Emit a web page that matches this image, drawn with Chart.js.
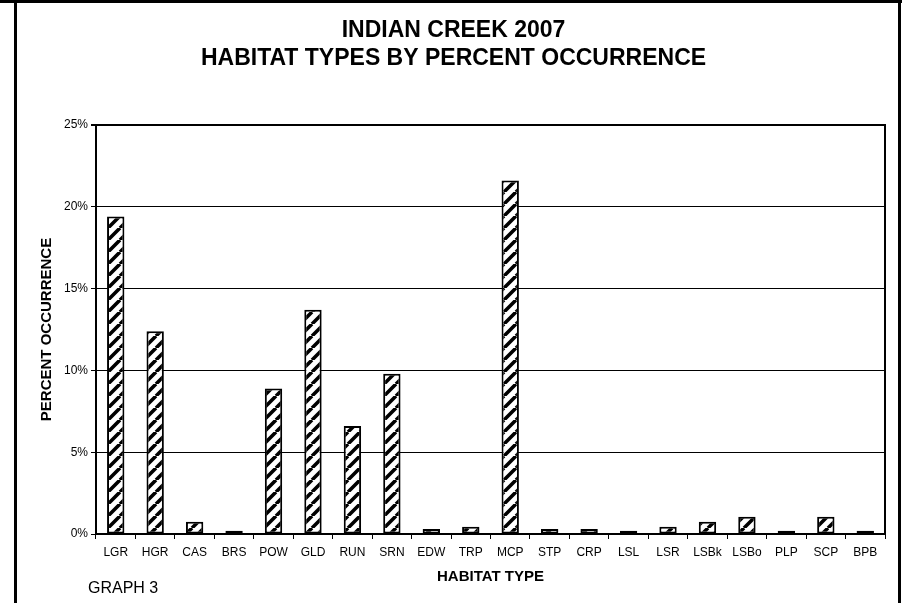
<!DOCTYPE html>
<html>
<head>
<meta charset="utf-8">
<title>Indian Creek 2007 - Habitat Types</title>
<script src="https://cdn.jsdelivr.net/npm/chart.js@4.4.1/dist/chart.umd.min.js"></script>
<style>
    body { margin: 0; background: #ffffff; overflow: hidden; }
    #wrap { position: relative; width: 907px; height: 603px; }
    #habitatChart { position: absolute; left: 0; top: 0; }
    .frame { position: absolute; background: #000000; }
    #frame-top { left: 0; top: 0; width: 902px; height: 3px; }
    #frame-left { left: 14px; top: 0; width: 3px; height: 603px; }
    #frame-right { left: 898px; top: 0; width: 3px; height: 603px; }
    #graph-label {
        position: absolute; left: 88px; top: 578px;
        font: 16px 'Liberation Sans', Arial, sans-serif;
        line-height: 20px; color: #000000;
    }
</style>
</head>
<body>
<div id="wrap">
    <canvas id="habitatChart" width="907" height="603"></canvas>
    <div class="frame" id="frame-top"></div>
    <div class="frame" id="frame-left"></div>
    <div class="frame" id="frame-right"></div>
    <div id="graph-label">GRAPH 3</div>
</div>
<script>
var habitatTypes = ['LGR', 'HGR', 'CAS', 'BRS', 'POW', 'GLD', 'RUN', 'SRN', 'EDW', 'TRP',
    'MCP', 'STP', 'CRP', 'LSL', 'LSR', 'LSBk', 'LSBo', 'PLP', 'SCP', 'BPB'];
var percentOccurrence = [19.4, 12.4, 0.75, 0.2, 8.9, 13.7, 6.6, 9.8, 0.3, 0.45,
    21.6, 0.3, 0.3, 0.2, 0.45, 0.75, 1.05, 0.2, 1.05, 0.2];
var percentTicks = [0, 5, 10, 15, 20, 25];

var FONT = "'Liberation Sans', Arial, sans-serif";

document.addEventListener('DOMContentLoaded', function() {
    buildHabitatChart();
});

// diagonal "/" hatch used to fill the bars
function makeHatch(ctx) {
    var size = 12;
    var tile = document.createElement('canvas');
    tile.width = size;
    tile.height = size;
    var g = tile.getContext('2d');
    g.fillStyle = '#ffffff';
    g.fillRect(0, 0, size, size);
    g.strokeStyle = '#000000';
    g.lineWidth = 3.6;
    g.beginPath();
    for (var k = -1; k <= 1; k++) {
        g.moveTo(k * size, size);
        g.lineTo(k * size + size, 0);
    }
    g.stroke();
    return ctx.createPattern(tile, 'repeat');
}

function buildHabitatChart() {
    var ctx = document.getElementById('habitatChart').getContext('2d');
    Chart.defaults.font.family = FONT;
    Chart.defaults.color = '#000000';

    new Chart(ctx, {
        type: 'bar',
        data: {
            labels: habitatTypes,
            datasets: [{
                label: 'Percent Occurrence',
                data: percentOccurrence,
                backgroundColor: makeHatch(ctx),
                borderColor: '#000000',
                borderWidth: 2,
                borderSkipped: false,
                categoryPercentage: 1,
                barPercentage: 0.44
            }]
        },
        options: {
            responsive: false,
            animation: false,
            layout: { padding: 0 },
            plugins: {
                legend: { display: false },
                tooltip: { enabled: false },
                title: {
                    display: true,
                    text: ['INDIAN CREEK 2007', 'HABITAT TYPES BY PERCENT OCCURRENCE'],
                    color: '#000000',
                    font: { size: 23, weight: 'bold', lineHeight: 28 / 23 },
                    padding: { top: 17, bottom: 52 }
                }
            },
            scales: {
                x: {
                    grid: {
                        drawOnChartArea: false,
                        drawTicks: true,
                        tickLength: 5,
                        color: '#000000'
                    },
                    border: { color: '#000000', width: 2 },
                    ticks: {
                        color: '#000000',
                        padding: 6,
                        maxRotation: 0,
                        autoSkip: false,
                        font: { size: 12 }
                    },
                    title: {
                        display: true,
                        text: 'HABITAT TYPE',
                        color: '#000000',
                        font: { size: 15, weight: 'bold', lineHeight: 1.2 },
                        padding: { top: 0, bottom: 17 }
                    },
                    afterFit: function(scale) { scale.height = 69; }
                },
                y: {
                    min: percentTicks[0],
                    max: percentTicks[percentTicks.length - 1],
                    afterBuildTicks: function(scale) {
                        scale.ticks = percentTicks.map(function(v) { return { value: v }; });
                    },
                    grid: {
                        color: '#000000',
                        lineWidth: function(c) {
                            return c.tick && c.tick.value === 25 ? 2 : 1;
                        },
                        tickLength: 5
                    },
                    border: { color: '#000000', width: 2 },
                    ticks: {
                        color: '#000000',
                        padding: 3,
                        font: { size: 12 },
                        callback: function(value) { return value + '%'; }
                    },
                    title: {
                        display: true,
                        text: 'PERCENT OCCURRENCE',
                        color: '#000000',
                        font: { size: 15, weight: 'bold', lineHeight: 1.2 },
                        padding: { top: 38, bottom: 0 }
                    },
                    afterFit: function(scale) { scale.width = 96; }
                },
                // empty right axis: gives the plot its right edge line
                yRight: {
                    position: 'right',
                    min: 0,
                    max: 25,
                    grid: { drawOnChartArea: false, drawTicks: false },
                    ticks: { display: false },
                    border: { display: true, color: '#000000', width: 2 },
                    afterFit: function(scale) { scale.width = 22; }
                }
            }
        }
    });
}
</script>
</body>
</html>
